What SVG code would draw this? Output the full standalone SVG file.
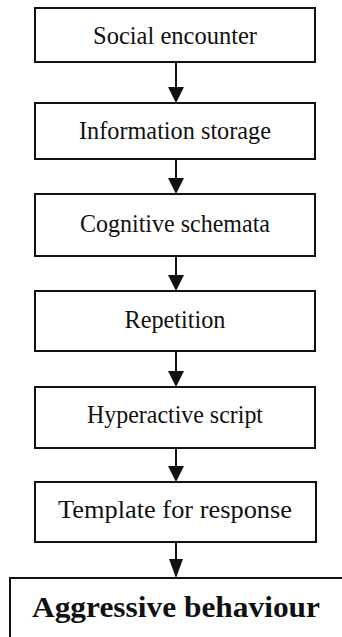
<svg xmlns="http://www.w3.org/2000/svg" width="342" height="637" viewBox="0 0 342 637">
<style>
.box{fill:#fff;stroke:#111;stroke-width:2}
.t{font-family:"Liberation Serif","DejaVu Serif",serif;font-size:25px;fill:#111;text-anchor:middle}
.b{font-family:"Liberation Serif","DejaVu Serif",serif;font-size:30px;font-weight:bold;fill:#111;text-anchor:middle}
.c{stroke:#111;stroke-width:2;fill:none}
.h{fill:#111}
</style>
<g id="n1"><rect class="box" x="35" y="8" width="280" height="54"/><text class="t" x="175" y="44" textLength="164" lengthAdjust="spacingAndGlyphs">Social encounter</text></g>
<g id="n2"><rect class="box" x="35" y="103" width="280" height="56"/><text class="t" x="175" y="139" textLength="192" lengthAdjust="spacingAndGlyphs">Information storage</text></g>
<g id="n3"><rect class="box" x="35" y="194" width="280" height="62"/><text class="t" x="175" y="232" textLength="190" lengthAdjust="spacingAndGlyphs">Cognitive schemata</text></g>
<g id="n4"><rect class="box" x="35" y="291" width="280" height="60"/><text class="t" x="175" y="328" textLength="101" lengthAdjust="spacingAndGlyphs">Repetition</text></g>
<g id="n5"><rect class="box" x="35" y="387" width="280" height="61"/><text class="t" x="175" y="423" textLength="176" lengthAdjust="spacingAndGlyphs">Hyperactive script</text></g>
<g id="n6"><rect class="box" x="35" y="482" width="281" height="60"/><text class="t" x="175" y="518" textLength="234" lengthAdjust="spacingAndGlyphs">Template for response</text></g>
<g id="n7"><rect class="box" x="10" y="578" width="340" height="70"/><text class="b" x="176" y="617" textLength="288" lengthAdjust="spacingAndGlyphs">Aggressive behaviour</text></g>
<g id="connectors">
<line class="c" x1="176" y1="62" x2="176" y2="88"/><polygon class="h" points="168,87 184,87 176,103"/>
<line class="c" x1="176" y1="159" x2="176" y2="179"/><polygon class="h" points="168,178 184,178 176,194"/>
<line class="c" x1="176" y1="256" x2="176" y2="276"/><polygon class="h" points="168,275 184,275 176,291"/>
<line class="c" x1="176" y1="351" x2="176" y2="372"/><polygon class="h" points="168,371 184,371 176,387"/>
<line class="c" x1="176" y1="448" x2="176" y2="467"/><polygon class="h" points="168,466 184,466 176,482"/>
<line class="c" x1="176" y1="542" x2="176" y2="560"/><polygon class="h" points="169,559 183,559 176,578"/>
</g>
</svg>
